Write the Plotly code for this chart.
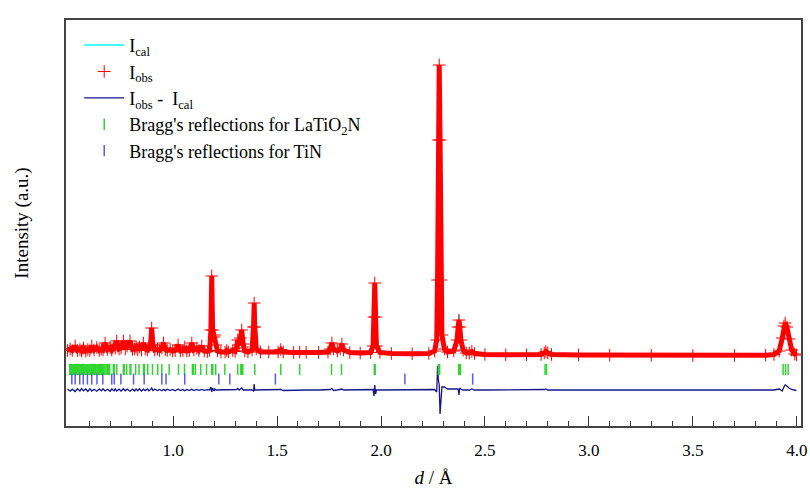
import plotly.graph_objects as go

# ---- observed pattern vertices (d in Angstrom, intensity a.u.) ----
d_obs = [0.492, 0.505, 0.515, 0.529, 0.540, 0.552, 0.560, 0.569, 0.580, 0.590,
         0.600, 0.609, 0.620, 0.633, 0.645, 0.655, 0.663, 0.673, 0.685, 0.697,
         0.705, 0.716, 0.722, 0.729, 0.740, 0.750, 0.761, 0.770, 0.779, 0.793,
         0.805, 0.815, 0.822, 0.830, 0.838, 0.848, 0.857, 0.866, 0.876, 0.884,
         0.892, 0.897, 0.903, 0.912, 0.925, 0.935, 0.946, 0.954, 0.963, 0.972,
         0.986, 0.998, 1.010, 1.024, 1.035, 1.047, 1.056, 1.066, 1.078, 1.090,
         1.100, 1.114, 1.124, 1.138, 1.150, 1.165, 1.176, 1.182, 1.186, 1.190,
         1.197, 1.201, 1.206, 1.214, 1.230, 1.250, 1.258, 1.266, 1.287, 1.298,
         1.305, 1.311, 1.318, 1.324, 1.330, 1.337, 1.345, 1.360, 1.380, 1.387,
         1.390, 1.393, 1.400, 1.420, 1.460, 1.505, 1.518, 1.530, 1.580, 1.609,
         1.640, 1.700, 1.745, 1.756, 1.764, 1.772, 1.790, 1.804, 1.812, 1.820,
         1.850, 1.900, 1.950, 1.962, 1.966, 1.970, 1.974, 1.978, 1.995, 2.050,
         2.150, 2.230, 2.258, 2.268, 2.272, 2.276, 2.280, 2.284, 2.288, 2.293,
         2.305, 2.320, 2.350, 2.366, 2.371, 2.375, 2.379, 2.384, 2.395, 2.410,
         2.425, 2.437, 2.450, 2.500, 2.600, 2.700, 2.770, 2.785, 2.793, 2.802,
         2.820, 2.950, 3.100, 3.300, 3.500, 3.700, 3.850, 3.890, 3.915, 3.930,
         3.938, 3.944, 3.952, 3.962, 3.975, 3.990, 3.998]

I_obs = [95, 110, 95, 140, 95, 105, 90, 120, 90, 105,
         95, 140, 100, 125, 95, 110, 100, 170, 105, 125,
         100, 140, 120, 190, 110, 120, 190, 110, 140, 190,
         105, 110, 130, 100, 130, 100, 170, 110, 100, 130,
         150, 320, 150, 100, 110, 95, 120, 170, 105, 95,
         105, 90, 95, 150, 90, 95, 130, 90, 95, 170,
         100, 115, 95, 140, 90, 85, 95, 300, 840, 300,
         230, 250, 150, 90, 80, 80, 95, 80, 95, 85,
         120, 200, 150, 220, 300, 160, 90, 80, 100, 330,
         570, 330, 110, 80, 80, 80, 105, 80, 75, 80,
         75, 75, 80, 110, 170, 110, 90, 110, 160, 100,
         75, 70, 75, 140, 430, 770, 430, 140, 75, 65,
         62, 65, 90, 200, 800, 2200, 2950, 2200, 800, 250,
         110, 80, 90, 200, 330, 400, 330, 200, 100, 70,
         70, 85, 65, 55, 52, 52, 55, 70, 85, 70,
         55, 50, 48, 47, 45, 45, 48, 55, 90, 220,
         340, 370, 330, 210, 100, 60, 50]

# residual Iobs - Ical on the same d grid
diff = [10, -12, 8, -15, 12, -10, 14, -8, 10, -14,
        12, -10, 8, -12, 10, -8, 12, -10, 8, -12,
        10, -8, 12, -10, 8, -10, 12, -8, 10, -12,
        8, -10, 10, -8, 12, -10, 8, -6, 10, -8,
        6, 20, -6, 8, -6, 6, -8, 6, -6, 8,
        -6, 6, -8, 10, -6, 6, -8, 6, -6, 8,
        -6, 6, -4, 6, -4, 4, 0, 30, -20, 20,
        -10, 10, 0, 0, 0, 0, 5, 0, 5, 0,
        5, 15, 0, 10, 20, 0, 0, 0, 0, -10,
        60, 0, 0, 0, 0, 0, 5, -5, 0, 0,
        0, 0, 0, 5, 15, -5, 0, 5, 10, 0,
        0, 0, 0, 5, -60, 50, -40, 0, 0, 0,
        0, 0, 5, -20, 240, 100, 50, -240, -100, 30,
        30, 10, 10, 10, 10, -50, 20, 10, 0, 0,
        0, 10, 0, 0, 0, 0, 0, 5, 10, 0,
        0, 0, 0, 0, 0, 0, 0, 0, 10, -10,
        30, 50, 40, 20, 5, 0, -5]

I_cal = [o - r for o, r in zip(I_obs, diff)]
diff_offset = -300

# ---- Bragg reflection positions ----
bragg_LaTiO2N = [0.503, 0.507, 0.511, 0.515, 0.519, 0.523, 0.527, 0.531, 0.535, 0.540,
                 0.544, 0.548, 0.552, 0.556, 0.560, 0.565, 0.569, 0.573, 0.577, 0.582,
                 0.586, 0.590, 0.595, 0.599, 0.603, 0.608, 0.612, 0.617, 0.621, 0.626,
                 0.630, 0.635, 0.640, 0.645, 0.650, 0.655, 0.660, 0.666, 0.672, 0.678,
                 0.684, 0.690, 0.695, 0.713, 0.717, 0.729, 0.761, 0.765, 0.777, 0.793,
                 0.797, 0.820, 0.836, 0.858, 0.862, 0.878, 0.901, 0.926, 0.946, 0.981,
                 1.026, 1.055, 1.093, 1.097, 1.107, 1.133, 1.161, 1.186, 1.191, 1.205,
                 1.249, 1.311, 1.326, 1.330, 1.335, 1.393, 1.518, 1.609, 1.762, 1.810,
                 1.968, 1.972, 2.276, 2.282, 2.374, 2.378, 2.382, 2.789, 2.796, 3.934,
                 3.946, 3.958]
bragg_TiN = [0.513, 0.529, 0.551, 0.568, 0.588, 0.609, 0.634, 0.662, 0.705, 0.717,
             0.749, 0.810, 0.861, 0.946, 0.966, 1.056, 1.220, 1.273, 1.492, 2.115,
             2.441]
bragg_LaTiO2N_level = -95
bragg_TiN_level = -190

# ---- axis ticks ----
major_ticks = [1.0, 1.5, 2.0, 2.5, 3.0, 3.5, 4.0]
major_labels = ["1.0", "1.5", "2.0", "2.5", "3.0", "3.5", "4.0"]
minor_ticks = [0.6, 0.7, 0.8, 0.9, 1.1, 1.2, 1.3, 1.4, 1.6, 1.7, 1.8, 1.9,
               2.1, 2.2, 2.3, 2.4, 2.6, 2.7, 2.8, 2.9, 3.1, 3.2, 3.3, 3.4,
               3.6, 3.7, 3.8, 3.9]

FONT = "Liberation Serif"
RED = "#ff0000"
CYAN = "#00ffff"
NAVY = "#15168f"
GREEN = "#2fd62f"
BLUE = "#5a5af5"

fig = go.Figure()

fig.add_trace(go.Scatter(x=d_obs, y=I_cal, mode="lines", name="I<sub>cal</sub>",
                         line=dict(color=CYAN, width=1.5)))
# red observed band (drawn under the markers)
fig.add_trace(go.Scatter(x=d_obs, y=I_obs, mode="lines",
                         line=dict(color=RED, width=5), showlegend=False,
                         hoverinfo="skip"))
fig.add_trace(go.Scatter(x=d_obs, y=I_obs, mode="markers", name="I<sub>obs</sub>",
                         marker=dict(symbol="cross-thin", size=9, color=RED,
                                     line=dict(color=RED, width=1))))
fig.add_trace(go.Scatter(x=d_obs, y=[r + diff_offset for r in diff], mode="lines",
                         name="I<sub>obs</sub> -  I<sub>cal</sub>",
                         line=dict(color=NAVY, width=1.3)))
fig.add_trace(go.Scatter(x=bragg_LaTiO2N, y=[bragg_LaTiO2N_level] * len(bragg_LaTiO2N),
                         mode="markers", name="Bragg's reflections for LaTiO<sub>2</sub>N",
                         marker=dict(symbol="line-ns", size=8, color=GREEN,
                                     line=dict(color=GREEN, width=1.5))))
fig.add_trace(go.Scatter(x=bragg_TiN, y=[bragg_TiN_level] * len(bragg_TiN),
                         mode="markers", name="Bragg's reflections for TiN",
                         marker=dict(symbol="line-ns", size=8, color=BLUE,
                                     line=dict(color=BLUE, width=1.5))))

fig.update_layout(
    width=810, height=489,
    margin=dict(l=66, r=9, t=20, b=63),
    paper_bgcolor="white", plot_bgcolor="white",
    font=dict(family=FONT, size=18, color="black"),
    showlegend=True,
    legend=dict(x=0.018, y=0.983, xanchor="left", yanchor="top",
                bgcolor="rgba(0,0,0,0)", font=dict(family=FONT, size=18),
                itemwidth=40),
)
fig.update_xaxes(range=[0.485, 4.02], showgrid=False, zeroline=False, automargin=False,
                 showline=True, mirror=True, linecolor="#444", linewidth=1.5,
                 ticks="inside", ticklen=10, tickwidth=1.2, tickcolor="#333",
                 tickmode="array", tickvals=major_ticks, ticktext=major_labels,
                 tickfont=dict(family=FONT, size=17), ticklabelstandoff=8,
                 minor=dict(ticks="inside", ticklen=5, tickwidth=1.2, tickcolor="#333",
                            tickmode="array", tickvals=minor_ticks),
                 title=dict(text="<i>d</i> / Å", font=dict(family=FONT, size=19), standoff=12))
fig.update_yaxes(range=[-660, 3400], showgrid=False, zeroline=False, automargin=False,
                 showline=True, mirror=True, linecolor="#444", linewidth=1.5,
                 ticks="", showticklabels=False,
                 title=dict(text="Intensity (a.u.)", font=dict(family=FONT, size=19), standoff=31))

# remove the default page margin so the 810x489 figure fills the window exactly
fig.write_html("out.html", config={"displayModeBar": False},
               post_script="document.body.style.margin='0';document.body.style.overflow='hidden';")
